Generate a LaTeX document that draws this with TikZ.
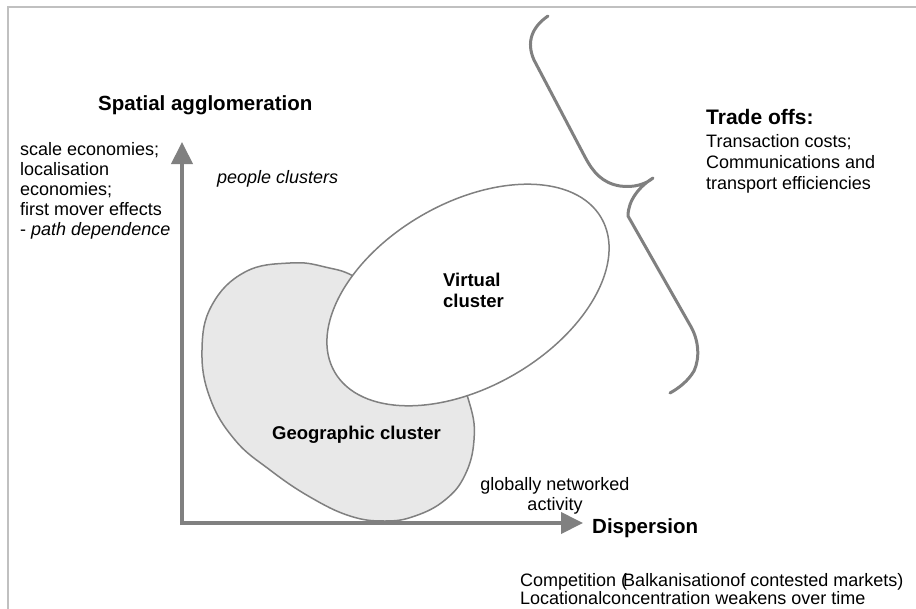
\documentclass[tikz,border=0pt]{standalone}
\usepackage{fontspec}
\setmainfont{Liberation Sans}
\usetikzlibrary{arrows.meta,shapes.geometric}
\definecolor{framegray}{HTML}{C0C0C0}
\definecolor{linegray}{HTML}{808080}
\definecolor{geofill}{HTML}{E8E8E8}
\begin{document}
\begin{tikzpicture}[x=1pt,y=-1pt,
  body/.style={inner sep=0pt, font=\fontsize{18}{20}\selectfont, align=left},
  bodyb/.style={inner sep=0pt, font=\fontsize{18.5}{21}\selectfont\bfseries, align=left},
  head/.style={inner sep=0pt, font=\fontsize{20.5}{24}\selectfont\bfseries},
  axisarrow/.style={draw=linegray, line width=4pt, -{Triangle[length=22pt,width=21pt]}},
  outline/.style={draw=linegray, line width=1.5pt},
  bracestroke/.style={draw=linegray, line width=3pt, line cap=round, line join=round}
]
\useasboundingbox (0,0) rectangle (916,608);
\fill[white] (0,0) rectangle (916,608);

% page frame (left and top edges)
\draw[framegray, line width=2pt] (8,612) -- (8,7) -- (920,7);

% geographic cluster blob
\draw[outline, fill=geofill] plot[smooth cycle, tension=0.7] coordinates {
  (290,263) (325,267) (360,280) (410,320) (452,365) (470,405) (474,440)
  (465,475) (445,500) (415,516) (385,521) (350,516) (310,497) (270,470)
  (235,440) (210,398) (202,350) (212,305) (245,272)};

% virtual cluster ellipse
\node[ellipse, outline, fill=white, inner sep=0pt, minimum width=308pt,
      minimum height=184pt, rotate=30] (virt) at (468,295) {};

% axes
\coordinate (origin) at (182,523);
\coordinate (ytip) at (182,142);
\coordinate (xtip) at (583,523);
\draw[axisarrow] ([yshift=-2pt]origin) -- (ytip);
\draw[axisarrow] ([xshift=-2pt]origin) -- (xtip);

% trade-off brace
\draw[bracestroke] (548,16) .. controls (532,27) and (526,42) .. (534,60)
  -- (585,157) .. controls (593,172) and (602,183) .. (620,186)
  .. controls (634,188) and (646,184) .. (653,178)
  .. controls (640,186) and (628,200) .. (628,216)
  -- (690,325) .. controls (699,340) and (700,358) .. (694,371)
  .. controls (688,381) and (679,388) .. (670,393);

% labels (multi-line nodes sit on the baseline of their last line)
\node[head, anchor=base west] (ylabel) at (98,110) {Spatial agglomeration};
\node[body, anchor=base west] (ynotes) at (20,235)
  {scale economies;\\localisation\\economies;\\first mover effects\\- \textit{path dependence}};
\node[body, anchor=base west] (people) at (217,183) {\textit{people clusters}};
\node[bodyb, anchor=base west] (virtlabel) at (443,307) {Virtual\\cluster};
\node[bodyb, anchor=base west] (geolabel) at (272,439) {Geographic cluster};
\node[body, align=center, anchor=base] (global) at (555,510) {globally networked\\activity};
\node[head, anchor=base west] (xlabel) at (592,533) {Dispersion};
\node[body, anchor=base west, font=\fontsize{18}{18}\selectfont] (xnotes) at (520,604)
  {Competition \rlap{(}\kern2pt Balkanisationof contested markets)\\Locationalconcentration weakens over time};
\node[head, anchor=base west, font=\fontsize{21}{24}\selectfont\bfseries] (tradehead) at (706,124) {Trade offs:};
\node[body, anchor=base west, font=\fontsize{18}{21}\selectfont] (tradebody) at (706,189)
  {Transaction costs;\\Communications and\\transport efficiencies};
\end{tikzpicture}
\end{document}
